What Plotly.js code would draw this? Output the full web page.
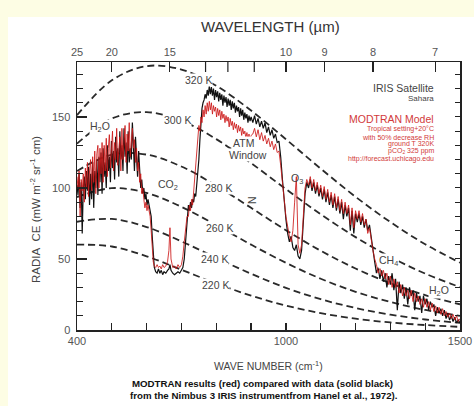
<!DOCTYPE html>
<html><head><meta charset="utf-8">
<script src="https://cdn.plot.ly/plotly-3.0.1.min.js"></script>
<style>html,body{margin:0;padding:0;background:#fff;}#chart{width:474px;height:406px;}</style>
</head><body><div id="chart"></div>
<script>
// Spectral grid (wavenumber, cm^-1)
const wn = [400,403,406,409,412,415,418,421,424,427,430,433,436,439,442,445,448,451,454,457,460,463,466,469,472,475,478,481,484,487,490,493,496,499,502,505,508,511,514,517,520,523,526,529,532,535,538,541,544,547,550,553,556,559,562,565,568,571,574,577,580,583,586,589,592,595,598,601,604,607,610,
613,616,619,622,626,630,634,638,642,646,650,655,660,664,667,670,675,680,685,690,695,700,704,708,712,716,
720,723,726,729,732,735,738,741,744,747,750,753,756,759,762,765,768,771,774,777,780,783,786,789,792,795,798,801,804,807,810,813,816,819,822,825,828,831,834,837,840,843,846,849,852,855,858,861,864,867,870,873,876,879,882,885,888,891,894,897,900,
905,910,915,920,925,930,935,940,945,950,955,960,965,970,975,980,985,990,995,1000,1005,1010,1015,1020,1025,1030,1035,1040,1045,1050,1055,1060,1065,1070,1075,1080,1085,1090,1095,1100,1105,1110,1115,1120,1125,1130,1135,1140,1145,1150,1155,1160,1165,1170,1175,1180,1185,1190,1195,1200,1205,1210,1215,1220,1225,1230,1235,1240,1245,1250,1255,1260,1265,1270,1275,1280,1285,1290,1295,1300,1305,1310,1315,1320,1325,1330,1335,1340,1345,1350,1355,1360,1365,1370,1375,1380,1385,1390,1395,1400,1405,1410,1415,1420,1425,1430,1435,1440,1445,1450,1455,1460,1465,1470,1475,1480,1485,1490,1495,1500];

// IRIS satellite data (solid black)
const irisData = [102,95,110,86,104,68,100,108,92,112, 98,115,88,110,92,118,86,112,100,120, 95,122,104,125,96,128,108,118,100,130, 112,122,104,133,114,126,106,136,118,128, 108,140,120,130,112,142,122,132,110,140, 118,128,120,146,130,112,136,118,108,126, 112,100,106,96,100,92,96,88,92,88, 86,
80,66,52,44,41,40,43,40,42,39,41,40,42,43,46,42,40,39,40,41,40,42,44,50,62,78,
88,84,90,86,92,90,96,94,102,110, 120,134,146,156,160,162,166,163,169,165, 172,166,171,165,170,162,169,164,168,161, 167,162,166,158,165,160,164,157,163,158, 162,155,161,156,160,153,158,154,157,150, 156,151,155,148,153,149,152,146,151,147, 150,
146,151,145,149,143,147,142,146,139,143, 137,141,135,138,132,133,122,106,90,78, 68,62,66,58,56,60,52,50,56,74, 96,104,100,106,98,104,96,102,94,100, 92,99,90,97,88,95,86,94,84,92, 82,90,78,88,80,86,70,84,68,82, 76,82,74,80,72,78,70,74,64,56, 48,40,44,36,42,34,40,30,38,32, 40,28,36,14,34,26,32,22,30,18, 30,24,28,14,26,20,24,12,24,18, 22,14,20,16,18,10,16,12,15,10, 14,8,12,7,10,6,9,5,7,5];

// MODTRAN model (red)
const modtran = [108,100,112,80,106,98,110,90,114,100, 118,94,112,120,98,122,104,126,96,124, 130,100,128,110,132,104,130,112,135,108, 128,138,114,126,140,112,132,120,142,116, 130,136,112,142,120,134,144,118,138,126, 146,122,136,142,128,134,118,128,112,118, 104,110,96,100,92,86,90,84,88,84, 80,
70,56,48,45,44,46,44,45,43,46,44,45,48,56,72,50,44,45,43,46,44,46,52,62,72,80,
80,88,84,92,88,98,106,116,126,136, 144,140,150,146,155,150,158,152,160,154, 161,155,160,152,158,154,157,150,156,151, 155,148,154,149,152,146,151,147,150,143, 149,144,147,141,146,142,145,139,144,140, 143,137,142,138,140,135,139,134,138,133, 137,
138,142,136,141,134,139,133,137,131,135, 129,133,127,131,125,126,116,106,92,80, 72,66,62,70,90,108,60,54,60,80, 100,106,102,108,100,106,98,104,96,102, 94,101,92,99,90,97,88,96,86,94, 84,92,82,90,82,88,74,86,72,84, 78,84,76,82,74,78,68,72,62,56, 50,46,40,44,38,42,36,40,32,38, 30,36,30,34,26,32,24,30,24,28, 22,28,20,26,20,24,18,22,16,22, 16,20,14,19,13,17,12,16,11,15, 10,13,9,12,8,11,7,10,6,8];

// Blackbody reference curves (dashed), read at 100 cm^-1 steps
const wnBB = [400,500,600,700,800,900,1000,1100,1200,1300,1400,1500];
const bb320 = [151.2,175.8,185.8,183.4,171.9,154.5,134.3,113.6,93.8,76.0,60.4,47.4];
const bb300 = [131.2,148.9,153.4,147.4,134.4,117.5,99.2,81.5,65.4,51.4,39.7,30.2];
const bb280 = [111.9,123.5,123.5,115.1,101.6,86.0,70.3,55.8,43.3,32.9,24.6,18.1];
const bb260 = [93.6,99.9,96.5,86.7,73.8,60.1,47.3,36.1,26.9,19.7,14.1,10.0];
const bb240 = [76.2,78.2,72.5,62.4,50.8,39.6,29.7,21.7,15.5,10.8,7.4,5.0];
const bb220 = [60.1,58.8,51.9,42.4,32.8,24.2,17.2,11.9,8.0,5.3,3.5,2.2];

// Axis ticks
const bottomLabelVals = [400,1000,1500];
const wavelengthLabelled = [25,20,15,10,9,8,7];
const wavelengthUnlabelled = [13,12,11];
const yTickVals = [0,50,100,150];

const FONT = 'Liberation Sans, Arial, Helvetica, sans-serif';
const L = 77, R = 460, T = 62, B = 330;
const px = x => (x - L) / (R - L);
const py = y => (B - y) / (B - T);

const dashLine = {color:'#2a2a2a', width:1.8, dash:'7px,4px', shape:'spline', smoothing:1};
const bbSets = [bb320,bb300,bb280,bb260,bb240,bb220];
const traces = bbSets.map(v => ({x:wnBB, y:v, type:'scatter', mode:'lines', line:dashLine, hoverinfo:'skip'}));
traces.push({x:wn, y:irisData, type:'scatter', mode:'lines', line:{color:'#111', width:1.2}, hoverinfo:'skip'});
traces.push({x:wn, y:modtran, type:'scatter', mode:'lines', line:{color:'rgba(205,25,25,0.85)', width:1}, hoverinfo:'skip'});
traces.push({x:[400], y:[0], xaxis:'x2', yaxis:'y2', type:'scatter', mode:'markers', marker:{opacity:0}, hoverinfo:'skip'});

const lab = (x, y, text, extra) => Object.assign({x, y, xref:'x', yref:'y', text, showarrow:false,
  font:{family:FONT, size:10.5, color:'#444'}, bgcolor:'rgba(255,255,255,1)', borderpad:0}, extra||{});
const pap = (x, y, text, size, color, extra) => Object.assign({x:px(x), y:py(y), xref:'paper', yref:'paper', text, showarrow:false,
  font:{family:FONT, size, color}, xanchor:'center', yanchor:'middle'}, extra||{});

const annotations = [
  lab(750,176,'320 K'), lab(690,148,'300 K'), lab(805,100,'280 K'),
  lab(808,72,'260 K'), lab(796,50,'240 K'), lab(799,31.7,'220 K'),
  lab(466,143,'H<sub>2</sub>O'), lab(661,102,'CO<sub>2</sub>', {bgcolor:'rgba(0,0,0,0)'}),
  lab(877,132,'ATM'), lab(891,123,'Window'),
  lab(903,91,'N', {textangle:90, bgcolor:'rgba(0,0,0,0)'}),
  lab(1032,106,'O<sub>3</sub>', {bgcolor:'rgba(0,0,0,0)'}),
  lab(1296,48.6,'CH<sub>4</sub>'), lab(1440,27.5,'H<sub>2</sub>O'),
  pap(436,88,'IRIS Satellite',10.5,'#444',{xanchor:'right'}),
  pap(436,98,'Sahara',8,'#444',{xanchor:'right'}),
  pap(436,119,'MODTRAN Model',10.5,'#d23a3a',{xanchor:'right'}),
  pap(436,129,'Tropical setting+20°C',7,'#d23a3a',{xanchor:'right'}),
  pap(436,137,'with 50% decrease RH',7,'#d23a3a',{xanchor:'right'}),
  pap(436,144,'ground T 320K',7,'#d23a3a',{xanchor:'right'}),
  pap(436,151,'pCO<sub>2</sub> 325 ppm',7,'#d23a3a',{xanchor:'right'}),
  pap(436,159,'http://forecast.uchicago.edu',7,'#d23a3a',{xanchor:'right'}),
  pap(270,26,'WAVELENGTH (µm)',15,'#333'),
  pap(268,365,'WAVE NUMBER (cm<sup>-1</sup>)',10.5,'#444'),
  pap(35,210,'RADIA\u00A0\u00A0CE (mW m<sup>-2</sup> sr<sup>-1</sup> cm)',11.5,'#444',{textangle:-90}),
  pap(262,383,'<b>MODTRAN results (red) compared with data (solid black)</b>',9.7,'#111'),
  pap(264,395,'<b>from the Nimbus 3 IRIS instrumentfrom Hanel et al., 1972).</b>',9.7,'#111')
];

// unlabeled wavelength ticks on the top axis
const topTickShapes = wavelengthUnlabelled.map(l => ({type:'line', xref:'x', yref:'paper',
  x0:10000/l, x1:10000/l, y0:1, y1:1 - 10/(B-T), line:{color:'#222', width:1.2}}));

const axisLine = {showline:true, linecolor:'#222', linewidth:1.5, showgrid:false, zeroline:false};
const layout = {
  width:474, height:406, margin:{l:L, r:474-R, t:T, b:406-B},
  paper_bgcolor:'#fff', plot_bgcolor:'#fff', showlegend:false,
  font:{family:FONT, color:'#555'},
  xaxis: Object.assign({range:[400,1500], tickmode:'array', tickvals:bottomLabelVals,
    ticks:'inside', ticklen:7, tickcolor:'#222', tickwidth:1.2, tickfont:{size:11, color:'#555'},
    minor:{tickmode:'linear', tick0:400, dtick:100, ticks:'inside', ticklen:7, tickcolor:'#222', tickwidth:1.2}}, axisLine),
  xaxis2: Object.assign({overlaying:'x', side:'top', range:[400,1500], tickmode:'array',
    tickvals: wavelengthLabelled.map(l => 10000 / l), ticktext: wavelengthLabelled.map(String),
    ticks:'inside', ticklen:10, tickcolor:'#222', tickwidth:1.2, tickfont:{size:11, color:'#555'}}, axisLine),
  yaxis: Object.assign({range:[0,188.7], tickmode:'array', tickvals:yTickVals, ticks:'inside', ticklen:10,
    tickcolor:'#222', tickwidth:1.2, tickfont:{size:11, color:'#555'}, ticklabelstandoff:3,
    minor:{tickmode:'linear', tick0:0, dtick:10, ticks:'inside', ticklen:6, tickcolor:'#222', tickwidth:1}}, axisLine),
  yaxis2: Object.assign({overlaying:'y', side:'right', range:[0,188.7], tickmode:'linear', tick0:0, dtick:10,
    ticks:'inside', ticklen:5, tickcolor:'#222', tickwidth:1, showticklabels:false}, axisLine),
  shapes:[
    {type:'rect', xref:'paper', yref:'paper', x0:px(0), x1:px(8), y0:py(406), y1:py(0), fillcolor:'#fdfde4', line:{width:0}, layer:'below'},
    {type:'rect', xref:'paper', yref:'paper', x0:px(0), x1:px(474), y0:py(17), y1:py(0), fillcolor:'#fdfde4', line:{width:0}, layer:'below'}
  ].concat(topTickShapes),
  annotations
};
Plotly.newPlot('chart', traces, layout, {staticPlot:true, displayModeBar:false});
</script></body></html>
